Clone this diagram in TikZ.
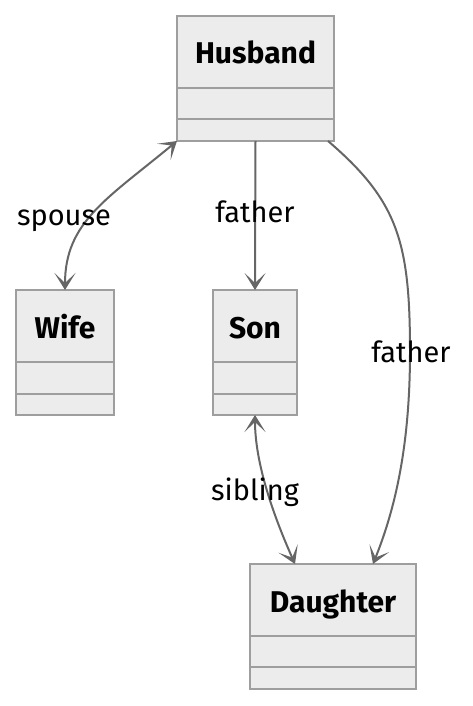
\documentclass[tikz,border=0pt]{standalone}
\usepackage{fontspec}
\setmainfont{Fira Sans}
\usetikzlibrary{positioning,arrows.meta}
\definecolor{boxfill}{HTML}{ECECEC}
\definecolor{boxline}{HTML}{9E9E9E}
\definecolor{edgeline}{HTML}{666666}
\begin{document}
\begin{tikzpicture}[x=1pt,y=-1pt,
  classhead/.style={draw=boxline,fill=boxfill,line width=2pt,outer sep=0pt,inner sep=0pt,
    minimum height=72pt,text height=24pt,text depth=0pt,font=\bfseries\fontsize{30}{36}\selectfont},
  classpart/.style={draw=boxline,fill=boxfill,line width=2pt,outer sep=0pt,inner sep=0pt},
  rel/.style={draw=edgeline,line width=2pt},
  >={Stealth[length=17pt,width=21pt,inset=10pt]},
  lbl/.style={text height=20pt,text depth=0pt,font=\fontsize{29}{34}\selectfont}]
\useasboundingbox (0,0) rectangle (472,706);
\node[classhead,minimum width=157pt] (husband) at (255.5,52) {Husband};
\node[classpart,minimum width=157pt,minimum height=31pt,below=0pt of husband] (husband-attr) {};
\node[classpart,minimum width=157pt,minimum height=22pt,below=0pt of husband-attr] (husband-ops) {};
\node[classhead,minimum width=98pt] (wife) at (65,326) {Wife};
\node[classpart,minimum width=98pt,minimum height=32pt,below=0pt of wife] (wife-attr) {};
\node[classpart,minimum width=98pt,minimum height=21pt,below=0pt of wife-attr] (wife-ops) {};
\node[classhead,minimum width=84pt] (son) at (255,326) {Son};
\node[classpart,minimum width=84pt,minimum height=32pt,below=0pt of son] (son-attr) {};
\node[classpart,minimum width=84pt,minimum height=21pt,below=0pt of son-attr] (son-ops) {};
\node[classhead,minimum width=166pt] (daughter) at (333,600) {Daughter};
\node[classpart,minimum width=166pt,minimum height=31pt,below=0pt of daughter] (daughter-attr) {};
\node[classpart,minimum width=166pt,minimum height=22pt,below=0pt of daughter-attr] (daughter-ops) {};
\coordinate (bend) at (410,352);
\draw[rel,<->] (husband-ops.south west) .. controls +(-70,58) and +(0,-68) .. (wife.north);
\draw[rel,->] (husband-ops.south) -- (son.north);
\draw[rel,->] ([xshift=-6pt]husband-ops.south east) .. controls +(70,60) and +(0,-110) .. (bend)
  .. controls +(0,100) and +(20,-50) .. ([xshift=40pt]daughter.north);
\draw[rel,<->] (son-ops.south) .. controls +(0,50) and +(-20,-45) .. ([xshift=-38pt]daughter.north);
\node[lbl] (spouse-lbl) at (64,215) {spouse};
\node[lbl] (father-lbl) at (255,212) {father};
\node[lbl] (father2-lbl) at (411,352) {father};
\node[lbl] (sibling-lbl) at (255,490) {sibling};
\end{tikzpicture}
\end{document}
